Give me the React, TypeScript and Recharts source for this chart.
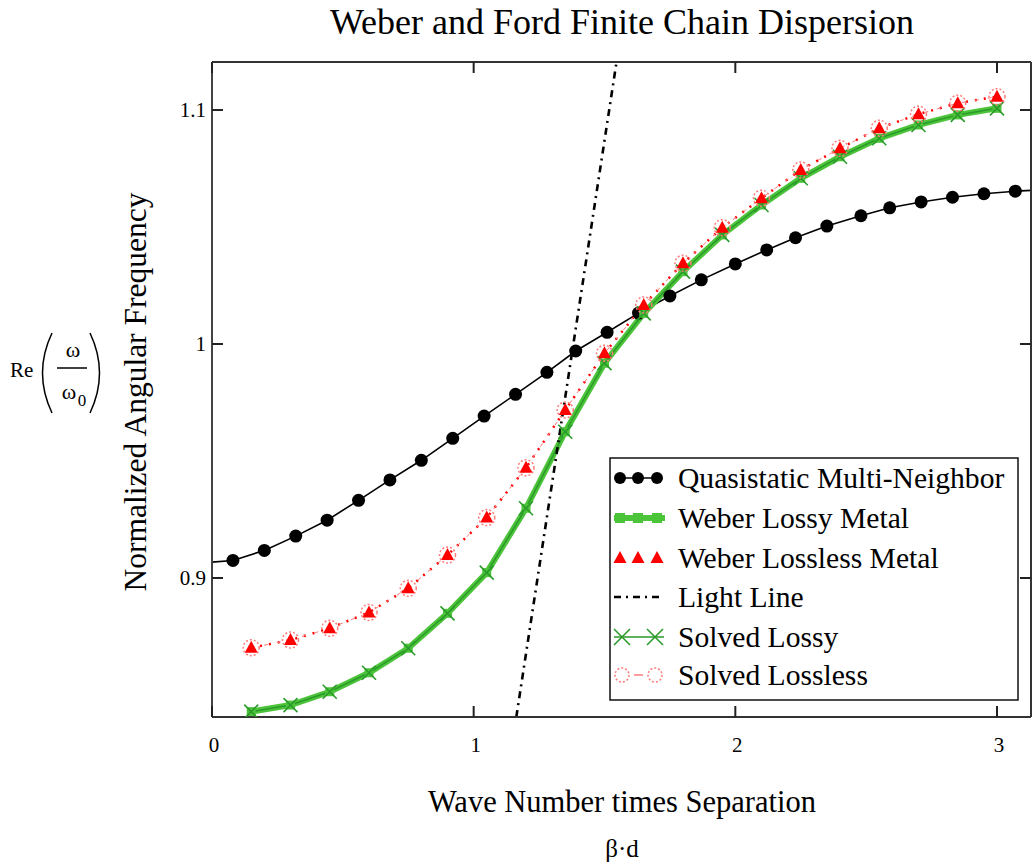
import React from "react";
import { LineChart, Line, XAxis, YAxis } from "recharts";

// Quasistatic multi-neighbor model (first point on the axis has no marker)
const quasiX = [
  0, 0.08, 0.2, 0.32, 0.44, 0.56, 0.68, 0.8, 0.92, 1.04, 1.16, 1.28, 1.39, 1.51,
  1.63, 1.75, 1.87, 2.0, 2.12, 2.23, 2.35, 2.48, 2.59, 2.71, 2.83, 2.95, 3.07, 3.2,
];
const quasiY = [
  0.9068, 0.9075, 0.9118, 0.9179, 0.9247, 0.9332, 0.9419, 0.9503, 0.9597, 0.9692,
  0.9785, 0.9879, 0.997, 1.005, 1.0132, 1.0205, 1.0274, 1.0342, 1.0402, 1.0454,
  1.0504, 1.0548, 1.0582, 1.0607, 1.0627, 1.0642, 1.0653, 1.066,
];

// Weber & Ford finite chain
const weberX = [
  0.15, 0.3, 0.45, 0.6, 0.75, 0.9, 1.05, 1.2, 1.35, 1.5, 1.65, 1.8, 1.95, 2.1, 2.25,
  2.4, 2.55, 2.7, 2.85, 3.0,
];
const weberLossy = [
  0.8429, 0.8457, 0.8514, 0.8595, 0.87, 0.8849, 0.9023, 0.9298, 0.9625, 0.9918,
  1.0131, 1.0309, 1.0466, 1.0594, 1.0708, 1.08, 1.0879, 1.0936, 1.0979, 1.1007,
];
const weberLossless = [
  0.8702, 0.8735, 0.8785, 0.8853, 0.8956, 0.9098, 0.9258, 0.9471, 0.9718, 0.996,
  1.0167, 1.0345, 1.0497, 1.0623, 1.0744, 1.0836, 1.0922, 1.0982, 1.1029, 1.1057,
];
const solvedLossy = [
  0.8429, 0.8457, 0.8514, 0.8595, 0.87, 0.8849, 0.9023, 0.9298, 0.9625, 0.9918,
  1.0131, 1.0309, 1.0466, 1.0594, 1.0708, 1.08, 1.0879, 1.0936, 1.0979, 1.1007,
];
const solvedLossless = [
  0.8702, 0.8735, 0.8785, 0.8853, 0.8956, 0.9098, 0.9258, 0.9471, 0.9718, 0.996,
  1.0167, 1.0345, 1.0497, 1.0623, 1.0744, 1.0836, 1.0922, 1.0982, 1.1029, 1.1057,
];

// light line end points
const lightX = [1.163, 1.546];
const lightY = [0.8406, 1.1205];

const xTicks = [0, 1, 2, 3];
const yTicks = [0.9, 1, 1.1];
const X_MAX = 3.13;
const Y_DOMAIN = [0.8406, 1.1205];

const toPts = (xs: number[], ys: number[]) => xs.map((x, i) => ({ x, y: ys[i] }));

const FONT = "'Liberation Serif', 'Times New Roman', serif";
const GREEN = "#4cc43a";
const DARK_GREEN = "#2a9a2a";
const RED = "#ff0000";
const PINK = "#ff7b7b";

const inside = (p: any) => p.payload && p.payload.x > 0 && p.payload.x <= X_MAX;

const QuasiDot = (p: any) =>
  inside(p) ? (
    <circle key={`q${p.index}`} cx={p.cx} cy={p.cy} r={6.5} fill="#000" />
  ) : (
    <g key={`q${p.index}`} />
  );

const SquareDot = (p: any) => (
  <rect key={`s${p.index}`} x={p.cx - 4.5} y={p.cy - 4.5} width={9} height={9} fill={GREEN} />
);

const TriangleDot = (p: any) => (
  <polygon
    key={`t${p.index}`}
    points={`${p.cx},${p.cy - 7} ${p.cx - 6.5},${p.cy + 5} ${p.cx + 6.5},${p.cy + 5}`}
    fill={RED}
  />
);

const CrossDot = (p: any) => (
  <g key={`x${p.index}`} stroke={DARK_GREEN} strokeWidth={1.6}>
    <line x1={p.cx - 7} y1={p.cy - 7} x2={p.cx + 7} y2={p.cy + 7} />
    <line x1={p.cx - 7} y1={p.cy + 7} x2={p.cx + 7} y2={p.cy - 7} />
  </g>
);

const RingDot = (p: any) => (
  <circle
    key={`o${p.index}`}
    cx={p.cx}
    cy={p.cy}
    r={8}
    fill="none"
    stroke={PINK}
    strokeWidth={1.5}
    strokeDasharray="2 2"
  />
);

const tickText = { fontFamily: FONT, fontSize: 21, fill: "#000" };

const BottomTick = ({ x, y, payload }: any) => (
  <g>
    <line x1={x} x2={x} y1={y} y2={y - 11} stroke="#222" strokeWidth={2} />
    <text x={x + 2} y={y + 28} textAnchor="middle" dominantBaseline="central" style={tickText}>
      {payload.value}
    </text>
  </g>
);

const TopTick = ({ x, y }: any) => (
  <line x1={x} x2={x} y1={y} y2={y + 11} stroke="#222" strokeWidth={2} />
);

const LeftTick = ({ x, y, payload }: any) => (
  <g>
    <line x1={x} x2={x + 11} y1={y} y2={y} stroke="#222" strokeWidth={2} />
    <text x={x - 6} y={y} textAnchor="end" dominantBaseline="central" style={tickText}>
      {payload.value}
    </text>
  </g>
);

const RightTick = ({ x, y }: any) => (
  <line x1={x} x2={x - 11} y1={y} y2={y} stroke="#222" strokeWidth={2} />
);

const legendRows = [
  "Quasistatic Multi-Neighbor",
  "Weber Lossy Metal",
  "Weber Lossless Metal",
  "Light Line",
  "Solved Lossy",
  "Solved Lossless",
];

function LegendBox() {
  const rowY = [478, 518, 558, 597, 637, 675];
  const sx = [620, 638, 657];
  return (
    <g>
      <rect x={610} y={458} width={408} height={242} fill="#fff" stroke="#111" strokeWidth={1.5} />
      {/* quasistatic */}
      <line x1={616} x2={661} y1={rowY[0]} y2={rowY[0]} stroke="#000" strokeWidth={1.5} />
      {sx.map((x) => (
        <circle key={`lq${x}`} cx={x} cy={rowY[0]} r={6} fill="#000" />
      ))}
      {/* weber lossy */}
      <line x1={614} x2={665} y1={rowY[1]} y2={rowY[1]} stroke={GREEN} strokeWidth={6} />
      {sx.map((x) => (
        <rect key={`ls${x}`} x={x - 5} y={rowY[1] - 5} width={10} height={10} fill={GREEN} />
      ))}
      {/* weber lossless */}
      {sx.map((x) => (
        <polygon
          key={`lt${x}`}
          points={`${x},${rowY[2] - 7} ${x - 6.5},${rowY[2] + 5} ${x + 6.5},${rowY[2] + 5}`}
          fill={RED}
        />
      ))}
      {/* light line */}
      <line
        x1={614}
        x2={663}
        y1={rowY[3]}
        y2={rowY[3]}
        stroke="#000"
        strokeWidth={2.5}
        strokeDasharray="7 5 2 5"
      />
      {/* solved lossy */}
      <line x1={614} x2={664} y1={rowY[4]} y2={rowY[4]} stroke={DARK_GREEN} strokeWidth={1.5} />
      {[622, 655].map((x) => (
        <g key={`lx${x}`} stroke={DARK_GREEN} strokeWidth={1.6}>
          <line x1={x - 8} y1={rowY[4] - 8} x2={x + 8} y2={rowY[4] + 8} />
          <line x1={x - 8} y1={rowY[4] + 8} x2={x + 8} y2={rowY[4] - 8} />
        </g>
      ))}
      {/* solved lossless */}
      <line x1={634} x2={643} y1={rowY[5]} y2={rowY[5]} stroke={PINK} strokeWidth={1.5} />
      {[622, 655].map((x) => (
        <circle
          key={`lo${x}`}
          cx={x}
          cy={rowY[5]}
          r={7}
          fill="none"
          stroke={PINK}
          strokeWidth={1.5}
          strokeDasharray="2 2"
        />
      ))}
      {legendRows.map((t, i) => (
        <text
          key={t}
          x={678}
          y={rowY[i]}
          dominantBaseline="central"
          style={{ fontFamily: FONT, fontSize: 29.6, fill: "#000" }}
        >
          {t}
        </text>
      ))}
    </g>
  );
}

function Labels() {
  return (
    <g style={{ fontFamily: FONT, fill: "#000" }}>
      <text x={622} y={22} textAnchor="middle" dominantBaseline="central" fontSize={36}>
        Weber and Ford Finite Chain Dispersion
      </text>
      <text x={622} y={802} textAnchor="middle" dominantBaseline="central" fontSize={30.5}>
        Wave Number times Separation
      </text>
      <text x={622} y={848} textAnchor="middle" dominantBaseline="central" fontSize={25}>
        β·d
      </text>
      <text
        x={135}
        y={392}
        textAnchor="middle"
        dominantBaseline="central"
        fontSize={31.5}
        transform="rotate(-90 135 392)"
      >
        Normalized Angular Frequency
      </text>
      {/* Re(ω/ω0) */}
      <text x={10} y={370} dominantBaseline="central" fontSize={21}>
        Re
      </text>
      <path d="M52 333 Q33 373 52 413" fill="none" stroke="#000" strokeWidth={1.5} />
      <path d="M90 333 Q109 373 90 413" fill="none" stroke="#000" strokeWidth={1.5} />
      <text x={73} y={349} textAnchor="middle" dominantBaseline="central" fontSize={22}>
        ω
      </text>
      <line x1={57} x2={87} y1={368} y2={368} stroke="#000" strokeWidth={1.5} />
      <text x={69} y={391} textAnchor="middle" dominantBaseline="central" fontSize={22}>
        ω
      </text>
      <text x={82} y={400} textAnchor="middle" dominantBaseline="central" fontSize={17}>
        0
      </text>
    </g>
  );
}

export default function App() {
  const quasi = toPts(quasiX, quasiY);
  const wLossy = toPts(weberX, weberLossy);
  const wLossless = toPts(weberX, weberLossless);
  const sLossy = toPts(weberX, solvedLossy);
  const sLossless = toPts(weberX, solvedLossless);
  const light = toPts(lightX, lightY);

  return (
    <div style={{ position: "absolute", left: 0, top: 0, width: 1032, height: 865, background: "#fff" }}>
      <LineChart width={1032} height={865} margin={{ top: 61, right: 0, bottom: 108, left: 152 }}>
        <XAxis
          xAxisId={0}
          type="number"
          dataKey="x"
          domain={[0, X_MAX]}
          allowDataOverflow
          ticks={xTicks}
          interval={0}
          height={40}
          tickSize={0}
          tickMargin={0}
          tick={<BottomTick />}
          axisLine={{ stroke: "#333", strokeWidth: 2 }}
          tickLine={false}
        />
        <XAxis
          xAxisId="top"
          orientation="top"
          type="number"
          dataKey="x"
          domain={[0, X_MAX]}
          allowDataOverflow
          ticks={xTicks}
          interval={0}
          height={1}
          tickSize={0}
          tickMargin={0}
          tick={<TopTick />}
          axisLine={{ stroke: "#333", strokeWidth: 2 }}
          tickLine={false}
        />
        <YAxis
          yAxisId={0}
          type="number"
          domain={Y_DOMAIN}
          allowDataOverflow
          ticks={yTicks}
          interval={0}
          width={60}
          tickSize={0}
          tickMargin={0}
          tick={<LeftTick />}
          axisLine={{ stroke: "#444", strokeWidth: 2 }}
          tickLine={false}
        />
        <YAxis
          yAxisId="right"
          orientation="right"
          type="number"
          domain={Y_DOMAIN}
          allowDataOverflow
          ticks={yTicks}
          interval={0}
          width={1}
          tickSize={0}
          tickMargin={0}
          tick={<RightTick />}
          axisLine={{ stroke: "#333", strokeWidth: 2 }}
          tickLine={false}
        />

        <Line
          data={quasi}
          dataKey="y"
          type="linear"
          stroke="#000"
          strokeWidth={1.6}
          dot={QuasiDot}
          activeDot={false}
          isAnimationActive={false}
        />
        <Line
          data={wLossy}
          dataKey="y"
          type="linear"
          stroke={GREEN}
          strokeWidth={6}
          dot={SquareDot}
          activeDot={false}
          isAnimationActive={false}
        />
        <Line
          data={sLossy}
          dataKey="y"
          type="linear"
          stroke={DARK_GREEN}
          strokeWidth={1.5}
          dot={CrossDot}
          activeDot={false}
          isAnimationActive={false}
        />
        <Line
          data={light}
          dataKey="y"
          type="linear"
          stroke="#000"
          strokeWidth={2.6}
          strokeDasharray="7 5 2 5"
          dot={false}
          activeDot={false}
          isAnimationActive={false}
        />
        <Line
          data={wLossless}
          dataKey="y"
          type="linear"
          stroke={RED}
          strokeWidth={2.5}
          strokeDasharray="2 7"
          dot={TriangleDot}
          activeDot={false}
          isAnimationActive={false}
        />
        <Line
          data={sLossless}
          dataKey="y"
          type="linear"
          stroke={PINK}
          strokeWidth={1}
          strokeDasharray="4 9"
          dot={RingDot}
          activeDot={false}
          isAnimationActive={false}
        />
        <Labels />
        <LegendBox />
      </LineChart>
    </div>
  );
}
